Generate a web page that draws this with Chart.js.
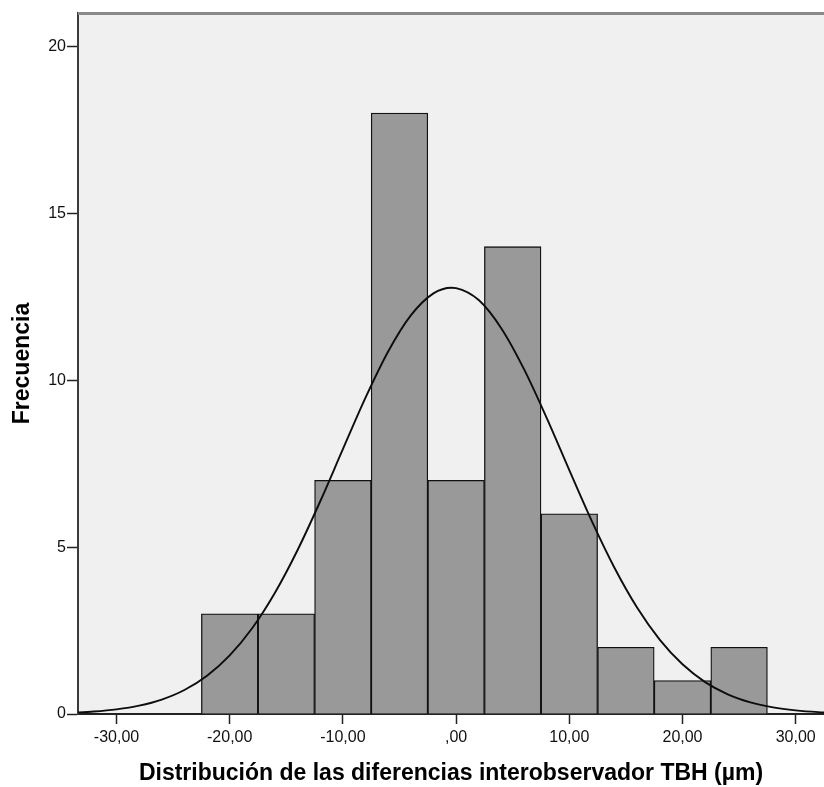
<!DOCTYPE html>
<html>
<head>
<meta charset="utf-8">
<script src="https://cdn.jsdelivr.net/npm/chart.js@4.4.1/dist/chart.umd.min.js"></script>
<style>
  html, body { margin: 0; padding: 0; background: #ffffff; }
  canvas { display: block; }
</style>
</head>
<body>
<canvas id="c" width="824" height="787"></canvas>
<script>
// Histogram bins (centres, width 5) and frequencies
const binCenters = [-20, -15, -10, -5, 0, 5, 10, 15, 20, 25];
const frequencies = [3, 3, 7, 18, 7, 14, 6, 2, 1, 2];

// Normal curve
const curveX = [-34, -32, -30, -28, -26, -24, -22, -20, -18, -16, -14, -12, -10, -8, -6, -4, -2, -0.4, 0, 2, 4, 6, 8, 10, 12, 14, 16, 18, 20, 22, 24, 26, 28, 30, 32, 34];
const curveY = [0.037, 0.073, 0.138, 0.25, 0.433, 0.719, 1.147, 1.756, 2.578, 3.633, 4.913, 6.373, 7.934, 9.477, 10.86, 11.94, 12.6, 12.77, 12.76, 12.4, 11.55, 10.33, 8.869, 7.305, 5.771, 4.375, 3.183, 2.222, 1.489, 0.956, 0.59, 0.349, 0.198, 0.108, 0.056, 0.028];

// Tick values and labels
const xTickValues = [-30, -20, -10, 0, 10, 20, 30];
const xTickLabels = ['-30,00', '-20,00', '-10,00', ',00', '10,00', '20,00', '30,00'];
const yTickValues = [0, 5, 10, 15, 20];
const yTickLabels = ['0', '5', '10', '15', '20'];

const xTitle = 'Distribución de las diferencias interobservador TBH (µm)';
const yTitle = 'Frecuencia';

const FONT = '"Liberation Sans", Arial, sans-serif';

const plotDecor = {
  id: 'plotDecor',
  beforeDraw(chart) {
    const { ctx, chartArea: a } = chart;
    ctx.save();
    ctx.fillStyle = '#f0f0f0';
    ctx.fillRect(a.left, a.top, a.right - a.left, a.bottom - a.top);
    ctx.restore();
  },
  afterDraw(chart) {
    const { ctx, chartArea: a } = chart;
    ctx.save();
    ctx.strokeStyle = '#8a8a8a';
    ctx.lineWidth = 3;
    ctx.beginPath();
    ctx.moveTo(a.left, a.top + 0.5);
    ctx.lineTo(a.right, a.top + 0.5);
    ctx.stroke();
    ctx.restore();
  }
};

new Chart(document.getElementById('c'), {
  type: 'bar',
  data: {
    datasets: [
      {
        type: 'line',
        data: curveX.map((x, i) => ({ x: x, y: curveY[i] })),
        borderColor: '#0d0d0d',
        borderWidth: 1.9,
        pointRadius: 0,
        cubicInterpolationMode: 'monotone',
        fill: false,
        order: 0
      },
      {
        type: 'bar',
        data: binCenters.map((x, i) => ({ x: x, y: frequencies[i] })),
        backgroundColor: '#999999',
        borderColor: '#111111',
        borderWidth: 1.3,
        borderSkipped: 'start',
        barPercentage: 1,
        categoryPercentage: 1,
        order: 1
      }
    ]
  },
  options: {
    responsive: false,
    animation: false,
    devicePixelRatio: 1,
    layout: { padding: { top: 13, left: 0, right: 0, bottom: 0 } },
    plugins: { legend: { display: false }, tooltip: { enabled: false } },
    scales: {
      x: {
        type: 'linear',
        min: -33.4,
        max: 32.5,
        offset: false,
        afterFit(scale) { scale.height = 73; },
        afterBuildTicks(scale) { scale.ticks = xTickValues.map(v => ({ value: v })); },
        ticks: {
          autoSkip: false,
          maxRotation: 0,
          padding: 4,
          color: '#111111',
          font: { family: FONT, size: 16 },
          callback(value) { const i = xTickValues.indexOf(value); return i >= 0 ? xTickLabels[i] : ''; }
        },
        grid: { drawOnChartArea: false, drawTicks: true, tickLength: 10, tickColor: '#222222', tickWidth: 1.5, offset: false },
        border: { display: true, color: '#222222', width: 2 },
        title: {
          display: true,
          text: xTitle,
          color: '#000000',
          font: { family: FONT, size: 23, weight: 'bold', lineHeight: 1.2 },
          padding: { top: 0, bottom: 0 }
        }
      },
      y: {
        type: 'linear',
        min: 0,
        max: 21,
        afterFit(scale) { scale.width = 78; },
        afterBuildTicks(scale) { scale.ticks = yTickValues.map(v => ({ value: v })); },
        ticks: {
          autoSkip: false,
          padding: 1,
          color: '#111111',
          font: { family: FONT, size: 16 },
          callback(value) { const i = yTickValues.indexOf(value); return i >= 0 ? yTickLabels[i] : ''; }
        },
        grid: { drawOnChartArea: false, drawTicks: true, tickLength: 11, tickColor: '#222222', tickWidth: 1.5 },
        border: { display: true, color: '#3a3a3a', width: 2 },
        title: {
          display: true,
          text: yTitle,
          color: '#000000',
          font: { family: FONT, size: 23, weight: 'bold', lineHeight: 1.2 },
          padding: { top: 9, bottom: 0 }
        }
      }
    }
  },
  plugins: [plotDecor]
});
</script>
</body>
</html>
